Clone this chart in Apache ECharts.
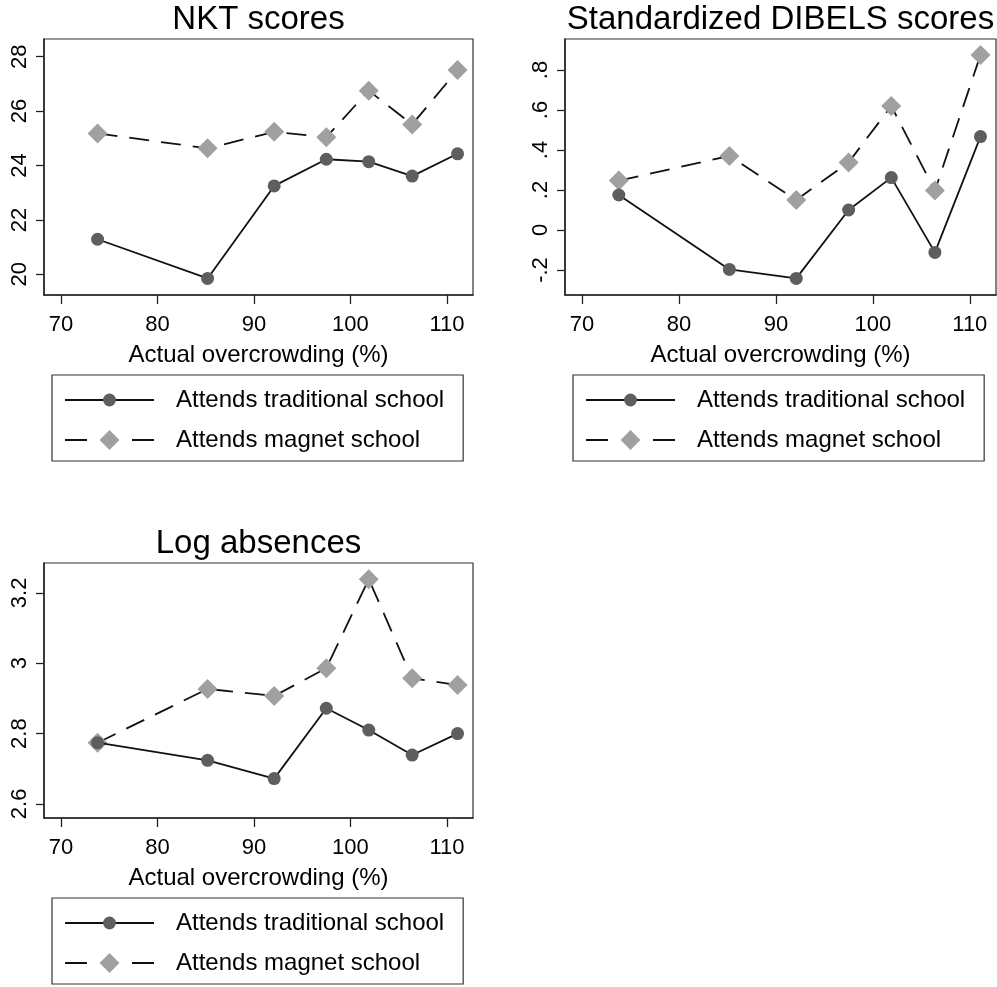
<!DOCTYPE html>
<html>
<head>
<meta charset="utf-8">
<script src="https://cdn.jsdelivr.net/npm/echarts@6/dist/echarts.min.js"></script>
<style>
html,body{margin:0;padding:0;background:#fff;}
#chart{width:997px;height:987px;}
</style>
</head>
<body>
<div id="chart"></div>
<script>
// ---- data ----
var overcrowding = [73.8, 85.2, 92.1, 97.5, 101.9, 106.4, 111.1];
var xTicks = [70, 80, 90, 100, 110];

var nktTraditional = [21.29, 19.85, 23.25, 24.23, 24.14, 23.61, 24.43];
var nktMagnet = [25.18, 24.63, 25.24, 25.04, 26.75, 25.51, 27.51];
var nktTicks = [20, 22, 24, 26, 28];

var dibelsTraditional = [0.175, -0.197, -0.242, 0.10, 0.262, -0.112, 0.467];
var dibelsMagnet = [0.247, 0.37, 0.15, 0.338, 0.62, 0.197, 0.875];
var dibelsTicks = [-0.2, 0, 0.2, 0.4, 0.6, 0.8];

var absTraditional = [2.774, 2.724, 2.672, 2.872, 2.810, 2.739, 2.80];
var absMagnet = [2.774, 2.927, 2.907, 2.986, 3.239, 2.957, 2.938];
var absTicks = [2.6, 2.8, 3, 3.2];

var panelTitles = ['NKT scores', 'Standardized DIBELS scores', 'Log absences'];
var seriesNames = ['Attends traditional school', 'Attends magnet school'];
var xTitle = 'Actual overcrowding (%)';

// ---- build ----
var FONT = '"Liberation Sans", Arial, Helvetica, sans-serif';
function pairs(xs, ys) { return xs.map(function (x, i) { return [x, ys[i]]; }); }

var grids = [
  {left: 44, top: 39, width: 429, height: 256},
  {left: 565, top: 39, width: 431, height: 256},
  {left: 44, top: 563, width: 429, height: 255}
];
var yRanges = [[19.24, 28.65], [-0.325, 0.955], [2.56, 3.285]];
var yTickSets = [nktTicks, dibelsTicks, absTicks];
var yFormatters = [
  function (v) { return String(v); },
  function (v) { return v === 0 ? '0' : String(+v.toFixed(1)).replace('0.', '.'); },
  function (v) { return String(+v.toFixed(1)); }
];

var axisColor = '#222';

var option = {
  backgroundColor: '#fff',
  animation: false,
  textStyle: {fontFamily: FONT},
  title: grids.map(function (g, i) {
    return {
      text: panelTitles[i],
      left: g.left + g.width / 2,
      textAlign: 'center',
      top: g.top - 36,
      padding: 0,
      textStyle: {fontSize: 33, fontWeight: 'normal', color: '#000', fontFamily: FONT}
    };
  }),
  grid: grids.map(function (g) {
    return {left: g.left, top: g.top, width: g.width, height: g.height,
      show: true, borderColor: '#333', borderWidth: 1.2, backgroundColor: '#fff'};
  }),
  xAxis: grids.map(function (g, i) {
    return {
      type: 'value', gridIndex: i, min: 68.25, max: 112.7,
      splitLine: {show: false},
      axisLine: {show: true, onZero: false, lineStyle: {color: axisColor, width: 1.5}},
      axisTick: {show: true, length: 9, lineStyle: {color: axisColor, width: 1.3}, customValues: xTicks},
      axisLabel: {show: true, fontSize: 22, color: '#000', margin: 19, fontFamily: FONT, customValues: xTicks},
      name: xTitle, nameLocation: 'middle', nameGap: 48,
      nameTextStyle: {fontSize: 24, color: '#000', fontFamily: FONT}
    };
  }),
  yAxis: grids.map(function (g, i) {
    return {
      type: 'value', gridIndex: i, min: yRanges[i][0], max: yRanges[i][1],
      splitLine: {show: false},
      axisLine: {show: true, onZero: false, lineStyle: {color: axisColor, width: 1.5}},
      axisTick: {show: true, length: 8, lineStyle: {color: axisColor, width: 1.3}, customValues: yTickSets[i]},
      axisLabel: {show: true, fontSize: 22, color: '#000', margin: 13, rotate: 90, fontFamily: FONT,
        customValues: yTickSets[i], formatter: yFormatters[i]}
    };
  }),
  legend: [
    {left: 52, top: 375},
    {left: 573, top: 375},
    {left: 52, top: 898}
  ].map(function (p) {
    return {
      left: p.left, top: p.top, orient: 'vertical',
      itemWidth: 89, itemHeight: 16, itemGap: 16,
      padding: [13, 19, 9, 12],
      borderColor: '#333', borderWidth: 1.2,
      selectedMode: false,
      textStyle: {fontSize: 24, color: '#000', fontFamily: FONT, padding: [0, 0, 0, 17]},
      data: [
        {name: seriesNames[0]},
        {name: seriesNames[1], lineStyle: {type: [22, 45]},
         itemStyle: {borderColor: '#a0a0a0', borderWidth: 5}}
      ]
    };
  }),
  series: []
};

var dataSets = [
  [nktTraditional, nktMagnet],
  [dibelsTraditional, dibelsMagnet],
  [absTraditional, absMagnet]
];
dataSets.forEach(function (pair, i) {
  option.series.push({
    name: seriesNames[0], type: 'line', xAxisIndex: i, yAxisIndex: i,
    data: pairs(overcrowding, pair[0]),
    symbol: 'circle', symbolSize: 13,
    lineStyle: {color: '#111', width: 1.8, type: 'solid'},
    itemStyle: {color: '#5e5e5e'},
    z: 3
  });
  option.series.push({
    name: seriesNames[1], type: 'line', xAxisIndex: i, yAxisIndex: i,
    data: pairs(overcrowding, pair[1]),
    symbol: 'diamond', symbolSize: 20,
    lineStyle: {color: '#111', width: 1.8, type: [20, 12]},
    itemStyle: {color: '#a0a0a0'},
    z: 2
  });
});

var chart = echarts.init(document.getElementById('chart'), null, {renderer: 'canvas'});
chart.setOption(option);
</script>
</body>
</html>
